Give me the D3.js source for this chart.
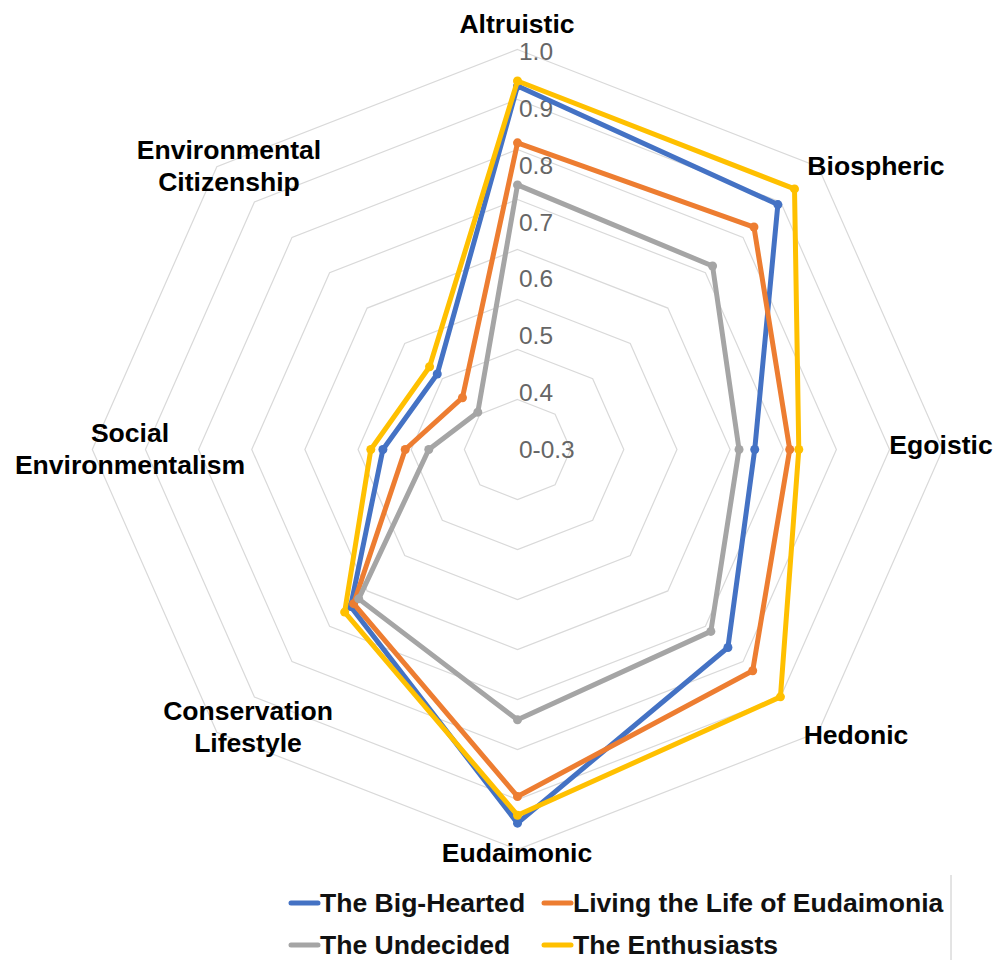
<!DOCTYPE html>
<html>
<head>
<meta charset="utf-8">
<script src="https://cdn.jsdelivr.net/npm/d3@7"></script>
<style>
  body { margin: 0; background: #ffffff; }
  svg { display: block; }
</style>
</head>
<body>
<svg id="chart" width="995" height="960"></svg>
<script>
// ---------- DATA ----------
const categories = ["Altruistic", "Biospheric", "Egoistic", "Hedonic", "Eudaimonic",
                    "Conservation Lifestyle", "Social Environmentalism", "Environmental Citizenship"];
const tickValues = [0.3, 0.4, 0.5, 0.6, 0.7, 0.8, 0.9, 1.0];
const tickLabels = ["0-0.3", "0.4", "0.5", "0.6", "0.7", "0.8", "0.9", "1.0"];
const seriesNames = ["The Big-Hearted", "Living the Life of Eudaimonia", "The Undecided", "The Enthusiasts"];
const bigHearted  = [0.940, 0.910, 0.693, 0.793, 0.958, 0.691, 0.523, 0.488];
const eudaimonia  = [0.840, 0.854, 0.751, 0.851, 0.911, 0.684, 0.486, 0.429];
const undecided   = [0.766, 0.757, 0.667, 0.753, 0.776, 0.672, 0.447, 0.393];
const enthusiasts = [0.949, 0.949, 0.766, 0.916, 0.944, 0.705, 0.543, 0.506];
const gridLevels  = [1, 2, 3, 4, 5, 6, 7, 8];

// ---------- LAYOUT / STYLE ----------
const seriesValues = [bigHearted, eudaimonia, undecided, enthusiasts];
const seriesColors = ["#4472C4", "#ED7D31", "#A5A5A5", "#FFC000"];
const cx = 517.5, cy = 449.5, sx = 1.063;
const font = "'Liberation Sans', Arial, Helvetica, sans-serif";

const rScale = d3.scaleLinear().domain([0.3, 1.0]).range([0, 397.5]);
const gridScale = d3.scaleLinear().domain([0, 8]).range([0, 400]);
const aScale = d3.scaleLinear().domain([0, categories.length]).range([0, 2 * Math.PI]);

function pt(i, r) {
  const a = aScale(i);
  return [cx + sx * r * Math.sin(a), cy - r * Math.cos(a)];
}

const svg = d3.select("#chart");
svg.append("rect").attr("width", 995).attr("height", 960).attr("fill", "#fff");

// grid rings
const closed = d3.line().curve(d3.curveLinearClosed);
svg.append("g").selectAll("path").data(gridLevels).join("path")
  .attr("d", lv => closed(categories.map((c, i) => pt(i, gridScale(lv)))))
  .attr("fill", "none")
  .attr("stroke", "#d9d9d9")
  .attr("stroke-width", 1.2);

// tick labels
svg.append("g").selectAll("text").data(tickValues).join("text")
  .attr("transform", v => `translate(${cx + 1.5},${cy - rScale(v)}) scale(${sx},1)`)
  .attr("dy", "0.36em")
  .attr("font-family", font)
  .attr("font-size", 23)
  .attr("fill", "#666666")
  .text((v, i) => tickLabels[i]);

// series
const sg = svg.append("g").selectAll("g").data(seriesValues).join("g");
sg.append("path")
  .attr("d", vals => closed(vals.map((v, i) => pt(i, rScale(v)))))
  .attr("fill", "none")
  .attr("stroke", (d, i) => seriesColors[i])
  .attr("stroke-width", 5)
  .attr("stroke-linejoin", "round");
sg.each(function (vals, si) {
  d3.select(this).selectAll("circle").data(vals).join("circle")
    .attr("cx", (v, i) => pt(i, rScale(v))[0])
    .attr("cy", (v, i) => pt(i, rScale(v))[1])
    .attr("r", 4.5)
    .attr("fill", seriesColors[si]);
});

// category labels (block centres)
const labelPos = [[517, 24], [876, 166], [941, 445], [856, 735], [517, 853],
                  [248, 727], [130, 449], [229, 166]];
const lineGap = 32;
const lg = svg.append("g").selectAll("text").data(categories).join("text")
  .attr("transform", (c, i) => `translate(${labelPos[i][0]},${labelPos[i][1]}) scale(${sx},1)`)
  .attr("text-anchor", "middle")
  .attr("font-family", font)
  .attr("font-size", 25)
  .attr("font-weight", "bold")
  .attr("fill", "#000");
lg.each(function (c) {
  const lines = c.split(" ");
  const t = d3.select(this);
  lines.forEach((ln, k) => {
    t.append("tspan")
      .attr("x", 0)
      .attr("y", (k - (lines.length - 1) / 2) * lineGap)
      .attr("dy", "0.36em")
      .text(ln);
  });
});

// legend
const legX = [289, 542], legY = [903, 945];
const leg = svg.append("g").selectAll("g").data(seriesNames).join("g")
  .attr("transform", (d, i) => `translate(${legX[i % 2]},${legY[Math.floor(i / 2)]})`);
leg.append("line")
  .attr("x1", 2).attr("x2", 29).attr("y1", 0).attr("y2", 0)
  .attr("stroke", (d, i) => seriesColors[i])
  .attr("stroke-width", 5)
  .attr("stroke-linecap", "round");
leg.append("text")
  .attr("transform", `translate(31,0) scale(${sx},1)`)
  .attr("dy", "0.36em")
  .attr("font-family", font)
  .attr("font-size", 25)
  .attr("font-weight", "bold")
  .attr("fill", "#111")
  .text(d => d);

// thin frame edge at right of legend
svg.append("line")
  .attr("x1", 951).attr("x2", 951).attr("y1", 875).attr("y2", 960)
  .attr("stroke", "#c8c8c8").attr("stroke-width", 1);
</script>
</body>
</html>
